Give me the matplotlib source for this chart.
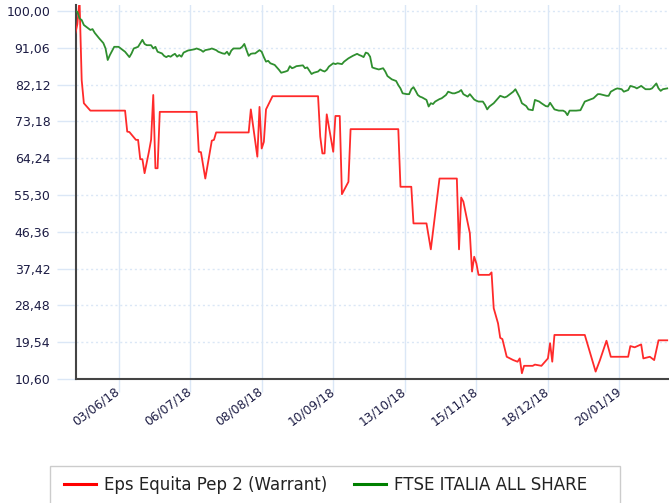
import matplotlib
matplotlib.use("Agg")
import matplotlib.pyplot as plt
import matplotlib.dates as mdates
from matplotlib.patches import Rectangle
from matplotlib.lines import Line2D
import pandas as pd

series_names = ["Eps Equita Pep 2 (Warrant)", "FTSE ITALIA ALL SHARE"]

warrant_dates = [
    "2018-05-14", "2018-05-15", "2018-05-16", "2018-05-17", "2018-05-18", "2018-05-21",
    "2018-06-06", "2018-06-07", "2018-06-08", "2018-06-11", "2018-06-12", "2018-06-13",
    "2018-06-14", "2018-06-15", "2018-06-17", "2018-06-18", "2018-06-19", "2018-06-20",
    "2018-06-21", "2018-06-22", "2018-07-09", "2018-07-10", "2018-07-11", "2018-07-13",
    "2018-07-16", "2018-07-17", "2018-07-18", "2018-08-02", "2018-08-03", "2018-08-06",
    "2018-08-07", "2018-08-08", "2018-08-09", "2018-08-10", "2018-08-13", "2018-09-03",
    "2018-09-04", "2018-09-05", "2018-09-06", "2018-09-07", "2018-09-10", "2018-09-11",
    "2018-09-13", "2018-09-14", "2018-09-17", "2018-09-18", "2018-10-10", "2018-10-11",
    "2018-10-16", "2018-10-17", "2018-10-23", "2018-10-25", "2018-10-29", "2018-11-06",
    "2018-11-07", "2018-11-08", "2018-11-09", "2018-11-12", "2018-11-13", "2018-11-14",
    "2018-11-15", "2018-11-16", "2018-11-21", "2018-11-22", "2018-11-23", "2018-11-25",
    "2018-11-26", "2018-11-27", "2018-11-29", "2018-12-02", "2018-12-04", "2018-12-05",
    "2018-12-06", "2018-12-07", "2018-12-11", "2018-12-12", "2018-12-15", "2018-12-18",
    "2018-12-19", "2018-12-20", "2018-12-21", "2019-01-04", "2019-01-09", "2019-01-11",
    "2019-01-14", "2019-01-16", "2019-01-24", "2019-01-25", "2019-01-27", "2019-01-30",
    "2019-01-31", "2019-02-03", "2019-02-05", "2019-02-07", "2019-02-11",
]
warrant_values = [
    94.4, 96.8, 102.7, 83.2, 77.6, 75.8,
    75.8, 70.7, 70.6, 68.7, 68.7, 64.0,
    64.0, 60.6, 65.8, 68.7, 79.6, 61.8,
    61.8, 75.5, 75.5, 65.8, 65.7, 59.3,
    68.5, 68.7, 70.5, 70.5, 76.1, 64.6,
    76.7, 66.6, 68.2, 76.1, 79.3, 79.3,
    69.5, 65.4, 65.4, 74.9, 65.8, 74.5,
    74.5, 55.5, 58.5, 71.3, 71.3, 57.3,
    57.3, 48.4, 48.4, 42.1, 59.3, 59.3,
    42.1, 54.7, 53.7, 46.0, 36.7, 40.3,
    38.7, 35.9, 35.9, 36.5, 27.8, 24.1,
    20.6, 20.3, 16.0, 15.2, 14.8, 15.6,
    12.0, 13.8, 13.8, 14.1, 13.8, 15.6,
    19.3, 14.8, 21.3, 21.3, 12.4, 15.2,
    19.9, 16.0, 16.0, 18.6, 18.3, 19.0,
    15.6, 16.0, 15.2, 20.0, 20.0,
]

ftse_dates = [
    "2018-05-14", "2018-05-15", "2018-05-16", "2018-05-17", "2018-05-18", "2018-05-20",
    "2018-05-21", "2018-05-22", "2018-05-23", "2018-05-25", "2018-05-27", "2018-05-28",
    "2018-05-29", "2018-05-30", "2018-06-01", "2018-06-03", "2018-06-04", "2018-06-06",
    "2018-06-08", "2018-06-09", "2018-06-10", "2018-06-12", "2018-06-14", "2018-06-15",
    "2018-06-16", "2018-06-18", "2018-06-19", "2018-06-20", "2018-06-21", "2018-06-23",
    "2018-06-24", "2018-06-25", "2018-06-26", "2018-06-27", "2018-06-28", "2018-06-29",
    "2018-06-30", "2018-07-01", "2018-07-02", "2018-07-03", "2018-07-05", "2018-07-06",
    "2018-07-08", "2018-07-09", "2018-07-11", "2018-07-12", "2018-07-13", "2018-07-15",
    "2018-07-16", "2018-07-18", "2018-07-19", "2018-07-21", "2018-07-22", "2018-07-23",
    "2018-07-24", "2018-07-25", "2018-07-26", "2018-07-29", "2018-07-30", "2018-07-31",
    "2018-08-01", "2018-08-02", "2018-08-03", "2018-08-04", "2018-08-05", "2018-08-07",
    "2018-08-08", "2018-08-09", "2018-08-10", "2018-08-11", "2018-08-12", "2018-08-14",
    "2018-08-16", "2018-08-17", "2018-08-19", "2018-08-20", "2018-08-21", "2018-08-22",
    "2018-08-23", "2018-08-24", "2018-08-27", "2018-08-28", "2018-08-29", "2018-08-30",
    "2018-08-31", "2018-09-01", "2018-09-03", "2018-09-04", "2018-09-05", "2018-09-06",
    "2018-09-07", "2018-09-08", "2018-09-10", "2018-09-11", "2018-09-12", "2018-09-14",
    "2018-09-15", "2018-09-17", "2018-09-19", "2018-09-21", "2018-09-22", "2018-09-23",
    "2018-09-24", "2018-09-25", "2018-09-26", "2018-09-27", "2018-09-28", "2018-09-29",
    "2018-10-01", "2018-10-03", "2018-10-04", "2018-10-05", "2018-10-07", "2018-10-09",
    "2018-10-10", "2018-10-11", "2018-10-12", "2018-10-14", "2018-10-15", "2018-10-16",
    "2018-10-17", "2018-10-18", "2018-10-19", "2018-10-20", "2018-10-21", "2018-10-23",
    "2018-10-24", "2018-10-25", "2018-10-26", "2018-10-27", "2018-10-29", "2018-10-30",
    "2018-11-01", "2018-11-02", "2018-11-03", "2018-11-04", "2018-11-05", "2018-11-07",
    "2018-11-08", "2018-11-09", "2018-11-11", "2018-11-12", "2018-11-14", "2018-11-15",
    "2018-11-16", "2018-11-18", "2018-11-19", "2018-11-20", "2018-11-21", "2018-11-23",
    "2018-11-25", "2018-11-26", "2018-11-28", "2018-11-29", "2018-11-30", "2018-12-02",
    "2018-12-03", "2018-12-04", "2018-12-05", "2018-12-06", "2018-12-08", "2018-12-09",
    "2018-12-11", "2018-12-12", "2018-12-14", "2018-12-15", "2018-12-17", "2018-12-18",
    "2018-12-19", "2018-12-21", "2018-12-23", "2018-12-25", "2018-12-26", "2018-12-27",
    "2018-12-28", "2018-12-31", "2019-01-02", "2019-01-04", "2019-01-06", "2019-01-08",
    "2019-01-10", "2019-01-11", "2019-01-14", "2019-01-15", "2019-01-16", "2019-01-18",
    "2019-01-19", "2019-01-21", "2019-01-22", "2019-01-24", "2019-01-25", "2019-01-27",
    "2019-01-28", "2019-01-30", "2019-02-01", "2019-02-03", "2019-02-04", "2019-02-06",
    "2019-02-07", "2019-02-08", "2019-02-09", "2019-02-11",
]
ftse_values = [
    100.0, 99.8, 98.2, 97.8, 96.6, 95.8,
    95.4, 95.6, 94.7, 93.4, 92.2, 90.9,
    88.1, 89.3, 91.3, 91.3, 90.9, 90.1,
    88.8, 89.7, 90.9, 91.3, 93.0, 92.0,
    91.7, 91.7, 90.9, 91.3, 90.1, 89.7,
    89.1, 88.8, 89.1, 88.9, 89.3, 89.6,
    88.9, 89.3, 88.9, 89.9, 90.4, 90.5,
    90.7, 90.9, 90.5, 90.1, 90.5, 90.7,
    90.9, 90.5, 90.1, 89.7, 89.6, 90.1,
    89.3, 90.4, 90.9, 90.9, 91.3, 92.0,
    90.5, 89.1, 89.6, 89.7, 89.7, 90.5,
    90.1, 88.8, 87.7, 87.9, 87.3, 86.9,
    85.7, 85.0, 85.3, 85.5, 86.6, 86.1,
    86.3, 86.6, 86.8, 86.1, 86.3, 85.5,
    84.7, 85.0, 85.3, 85.8, 85.5, 85.3,
    85.7, 86.5, 87.3, 87.1, 87.3, 87.1,
    87.7, 88.5, 89.1, 89.6, 89.3, 89.1,
    88.8, 89.9, 89.7, 88.9, 86.3, 86.1,
    85.8, 86.1, 85.3, 84.2, 83.4, 83.0,
    82.0, 81.2, 80.0, 79.8, 79.8, 81.0,
    81.5, 80.6, 79.6, 79.2, 79.0, 78.4,
    76.8, 77.6, 77.4, 78.0, 78.6, 78.8,
    79.6, 80.4, 80.2, 80.0, 80.0, 80.4,
    80.8, 79.8, 79.2, 79.8, 78.5, 78.2,
    78.0, 78.0, 77.2, 76.1, 76.8, 77.6,
    78.8, 79.4, 79.0, 79.2, 79.6, 80.4,
    81.0, 80.0, 79.0, 77.6, 76.9, 76.1,
    75.9, 78.4, 78.0, 77.6, 76.9, 76.8,
    77.7, 76.1, 75.8, 75.8, 75.5, 74.7,
    75.8, 75.8, 75.9, 78.0, 78.4, 78.8,
    79.8, 79.8, 79.4, 79.4, 80.4, 81.0,
    81.2, 81.0, 80.4, 80.8, 81.8, 81.5,
    81.2, 81.8, 81.0, 81.0, 81.2, 82.4,
    81.2, 80.6, 81.0, 81.2,
]

y_ticks = [10.60, 19.54, 28.48, 37.42, 46.36, 55.30, 64.24, 73.18, 82.12, 91.06, 100.00]
x_ticks = ["2018-06-03", "2018-07-06", "2018-08-08", "2018-09-10",
           "2018-10-13", "2018-11-15", "2018-12-18", "2019-01-20"]

RED = "#ff2a2a"
GREEN = "#2f8f2f"
GRID = "#dbe7f6"
LABEL = "#1c1c44"

fig = plt.figure(figsize=(6.69, 5.03), dpi=100)
ax = fig.add_axes([76 / 669, 1 - 379 / 503, 1 - 76 / 669, 374 / 503])

ax.plot(pd.to_datetime(warrant_dates), warrant_values, color=RED, lw=1.3, zorder=3)
ax.plot(pd.to_datetime(ftse_dates), ftse_values, color=GREEN, lw=1.3, zorder=3)

ax.set_ylim(10.60, 101.46)
ax.set_xlim(pd.Timestamp("2018-05-14 09:00"), pd.Timestamp("2019-02-11 20:00"))

ax.set_yticks(y_ticks)
ax.set_yticklabels([f"{v:.2f}".replace(".", ",") for v in y_ticks])
ax.set_xticks(pd.to_datetime(x_ticks))
ax.xaxis.set_major_formatter(mdates.DateFormatter("%d/%m/%y"))

ax.grid(axis="x", color=GRID, lw=1, ls="-", zorder=0)
ax.grid(axis="y", color=GRID, lw=1, ls=(0, (1.5, 2)), zorder=0)

ax.tick_params(axis="y", length=13.5, width=1, color=GRID, pad=5,
               labelsize=9, labelcolor=LABEL)
ax.tick_params(axis="x", length=9, width=1, color=GRID, pad=-1,
               labelsize=8.8, labelcolor=LABEL)
for lbl in ax.get_xticklabels():
    lbl.set_rotation(37)
    lbl.set_ha("right")
    lbl.set_va("center")
    lbl.set_rotation_mode("anchor")

for side in ("top", "right"):
    ax.spines[side].set_visible(False)
for side in ("left", "bottom"):
    ax.spines[side].set_color("#444444")
    ax.spines[side].set_linewidth(1.5)

# legend box runs off the bottom of the picture
fig.patches.append(Rectangle((50 / 669, -0.05), 570 / 669, 0.05 + (503 - 466) / 503,
                             transform=fig.transFigure, fill=False,
                             edgecolor="#cccccc", lw=1))
handles = [Line2D([], [], color="#ff0000", lw=2.2),
           Line2D([], [], color="#008000", lw=2.2)]
fig.legend(handles, series_names, loc="center left",
           bbox_to_anchor=(49 / 669, 1 - 485 / 503), ncol=2, frameon=False,
           fontsize=12, handlelength=1.9, handletextpad=0.5, columnspacing=1.6,
           labelcolor="#222222")

fig.savefig("out.png", dpi=100)
